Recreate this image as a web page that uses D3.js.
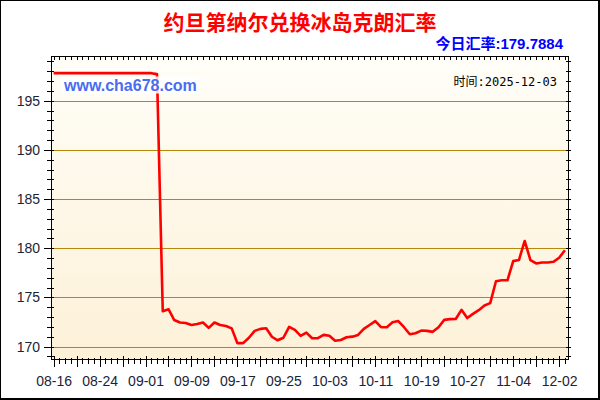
<!DOCTYPE html>
<html><head><meta charset="utf-8">
<script src="https://cdn.jsdelivr.net/npm/d3@7"></script>
<style>html,body{margin:0;padding:0;background:#fff;}svg{display:block;}</style>
</head><body>
<script>
const dates = ["08-16","08-17","08-18","08-19","08-20","08-21","08-22","08-23","08-24","08-25",
"08-26","08-27","08-28","08-29","08-30","08-31","09-01","09-02","09-03","09-04",
"09-05","09-06","09-07","09-08","09-09","09-10","09-11","09-12","09-13","09-14",
"09-15","09-16","09-17","09-18","09-19","09-20","09-21","09-22","09-23","09-24",
"09-25","09-26","09-27","09-28","09-29","09-30","10-01","10-02","10-03","10-04",
"10-05","10-06","10-07","10-08","10-09","10-10","10-11","10-12","10-13","10-14",
"10-15","10-16","10-17","10-18","10-19","10-20","10-21","10-22","10-23","10-24",
"10-25","10-26","10-27","10-28","10-29","10-30","10-31","11-01","11-02","11-03",
"11-04","11-25","11-26","11-27","11-28","11-29","11-30","12-01","12-02","12-03"];
const rates = [197.8,197.8,197.8,197.8,197.8,197.8,197.8,197.8,197.8,197.8,
197.8,197.8,197.8,197.8,197.8,197.8,197.8,197.8,197.7,173.6,
173.8,172.7,172.45,172.4,172.2,172.3,172.45,171.9,172.45,172.2,
172.1,171.85,170.35,170.35,170.9,171.6,171.8,171.87,171.0,170.64,
170.9,172.0,171.7,171.08,171.42,170.85,170.85,171.19,171.1,170.6,
170.67,170.95,171.01,171.19,171.8,172.2,172.59,171.97,171.97,172.48,
172.6,171.97,171.26,171.36,171.63,171.6,171.5,171.97,172.72,172.79,
172.8,173.74,172.9,173.33,173.7,174.18,174.42,176.64,176.74,176.74,
178.69,178.8,180.74,178.8,178.45,178.55,178.55,178.62,179.03,179.7884];
const xTickLabels = ["08-16","08-24","09-01","09-09","09-17","09-25","10-03","10-11","10-19","10-27","11-04","12-02"];
const yTickLabels = [170,175,180,185,190,195];
const titleText = "约旦第纳尔兑换冰岛克朗汇率";
const todayText = "今日汇率:179.7884";
const timeText = "时间:2025-12-03";
const siteText = "www.cha678.com";

const W = 600, H = 400;
const L = 51.5, R = 568.5, T = 56.5, B = 359.5;
const svg = d3.select("body").append("svg").attr("width", W).attr("height", H);

const defs = svg.append("defs");
const grad = defs.append("linearGradient").attr("id","bg").attr("x1",0).attr("y1",0).attr("x2",0).attr("y2",1);
grad.append("stop").attr("offset","0%").attr("stop-color","#fffef8");
grad.append("stop").attr("offset","100%").attr("stop-color","#fdf1d8");

svg.append("rect").attr("x",0.5).attr("y",0.5).attr("width",598).attr("height",398)
  .attr("fill","#fff").attr("stroke","#000").attr("stroke-width",1);
svg.append("path").attr("d","M599.5,0V400M0,399.5H600").attr("stroke","#000").attr("stroke-width",1);

const x = d3.scalePoint().domain(dates).range([53.6, 564.9]);
const y = d3.scaleLinear().domain([170,195]).range([346.6, 100.7]);

svg.append("rect").attr("x",L).attr("y",T).attr("width",R-L).attr("height",B-T).attr("fill","url(#bg)");

// grid
svg.append("g").selectAll("line").data(yTickLabels).join("line")
  .attr("x1",L).attr("x2",R).attr("y1",d=>Math.round(y(d))+0.5).attr("y2",d=>Math.round(y(d))+0.5)
  .attr("stroke","#b8860b").attr("stroke-width",1);

// line
const line = d3.line().x((d,i)=>x(dates[i])).y(d=>y(d));
svg.append("path").datum(rates).attr("d",line).attr("fill","none")
  .attr("stroke","#ff0000").attr("stroke-width",2.6).attr("stroke-linejoin","round");

// watermark
svg.append("rect").attr("x",61).attr("y",76.5).attr("width",139).attr("height",17)
  .attr("fill","#ffffff").attr("opacity",0.85);
svg.append("text").attr("x",64).attr("y",91).text(siteText)
  .attr("font-family","Liberation Sans, Arial, sans-serif").attr("font-size",16).attr("font-weight","bold")
  .attr("fill","#4a6cf0");

svg.append("text").attr("x",557).attr("y",86).attr("text-anchor","end").text(timeText)
  .attr("font-family","DejaVu Sans Mono, Noto Sans CJK SC, monospace").attr("font-size",12).attr("fill","#000");

function style(g){ g.select(".domain").remove(); g.selectAll("line").attr("stroke","#000").attr("shape-rendering","crispEdges"); return g; }

const yMinor = d3.range(169,200);
const majIdx = dates.filter((d,i)=>i%4===0);
// bottom
svg.append("g").attr("transform",`translate(0,${B})`).call(d3.axisBottom(x).tickValues(dates).tickSize(4).tickFormat("")).call(style);
svg.append("g").attr("transform",`translate(0,${B})`).call(d3.axisTop(x).tickValues(dates).tickSize(2).tickFormat("")).call(style);
svg.append("g").attr("transform",`translate(0,${B})`).call(d3.axisBottom(x).tickValues(majIdx).tickSize(7).tickFormat("")).call(style);
svg.append("g").attr("transform",`translate(0,${B})`).call(d3.axisTop(x).tickValues(majIdx).tickSize(4).tickFormat("")).call(style);
const xl = svg.append("g").attr("transform",`translate(0,${B})`).call(d3.axisBottom(x).tickValues(xTickLabels).tickSize(0).tickPadding(16.5)).call(style);
xl.selectAll("text").attr("font-family","Liberation Sans, Arial, sans-serif").attr("font-size",14).attr("fill","#1b2436");
// top
svg.append("g").attr("transform",`translate(0,${T})`).call(d3.axisBottom(x).tickValues(dates).tickSize(3).tickFormat("")).call(style);
// left
svg.append("g").attr("transform",`translate(${L},0)`).call(d3.axisLeft(y).tickValues(yMinor).tickSize(4.5).tickFormat("")).call(style);
svg.append("g").attr("transform",`translate(${L},0)`).call(d3.axisRight(y).tickValues(yMinor).tickSize(2.5).tickFormat("")).call(style);
svg.append("g").attr("transform",`translate(${L},0)`).call(d3.axisLeft(y).tickValues(yTickLabels).tickSize(8).tickFormat("")).call(style);
const yl = svg.append("g").attr("transform",`translate(${L},0)`).call(d3.axisLeft(y).tickValues(yTickLabels).tickSize(0).tickPadding(11.5)).call(style);
yl.selectAll("text").attr("font-family","Liberation Sans, Arial, sans-serif").attr("font-size",14).attr("fill","#1b2436");
// right
svg.append("g").attr("transform",`translate(${R},0)`).call(d3.axisRight(y).tickValues(yMinor).tickSize(2.5).tickFormat("")).call(style);
svg.append("g").attr("transform",`translate(${R},0)`).call(d3.axisLeft(y).tickValues(yMinor).tickSize(2.5).tickFormat("")).call(style);

// frame
svg.append("rect").attr("x",L).attr("y",T).attr("width",R-L).attr("height",B-T)
  .attr("fill","none").attr("stroke","#000").attr("stroke-width",1);

// titles
svg.append("text").attr("x",300).attr("y",30).attr("text-anchor","middle").text(titleText)
  .attr("font-family","Noto Sans CJK SC, sans-serif").attr("font-size",21).attr("font-weight","bold").attr("fill","#ff0000");
svg.append("text").attr("x",563).attr("y",49).attr("text-anchor","end").text(todayText)
  .attr("font-family","Liberation Sans, Noto Sans CJK SC, sans-serif").attr("font-size",15).attr("font-weight","bold").attr("fill","#0000ff");
</script>
</body></html>
